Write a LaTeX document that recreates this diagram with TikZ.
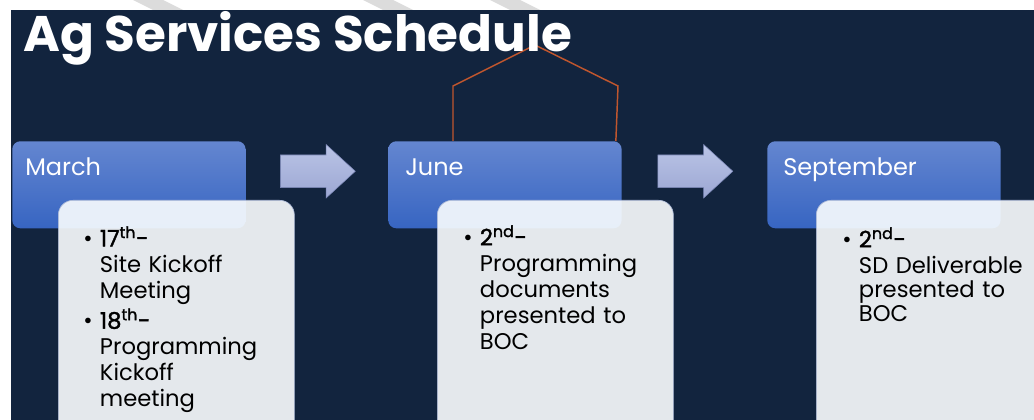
\documentclass[tikz,border=0pt]{standalone}
\usepackage{fontspec}
\setmainfont{Poppins}
\newfontfamily\numfont{Poppins}[FakeBold=1.6]
\usetikzlibrary{shapes.arrows,calc}

\definecolor{navy}{HTML}{12243E}
\definecolor{stripegray}{HTML}{DCDCDC}
\definecolor{hdtop}{HTML}{6486D0}
\definecolor{hdbot}{HTML}{3765C2}
\definecolor{infofill}{RGB}{251,254,255}
\definecolor{infoline}{HTML}{AEBBD8}
\definecolor{arrtop}{HTML}{BAC4E6}
\definecolor{arrbot}{HTML}{9CA7D3}
\definecolor{arrline}{HTML}{7A86B6}
\definecolor{bracketorange}{HTML}{C0562E}

% one bullet item, hanging after the first line
\newcommand\bitem[1]{\hangindent=12.5pt\hangafter=1\noindent\strut\makebox[12.5pt][l]{\textbullet}#1\par}
\newcommand\dayno[2]{{\numfont #1\textsuperscript{#2}-}}

\tikzset{
  month/.style={rounded corners=6pt, top color=hdtop, bottom color=hdbot,
    minimum width=175pt, minimum height=65.25pt, anchor=north west, inner sep=0pt},
  monthtext/.style={anchor=base west, inner sep=0pt, text=white,
    font=\fontsize{18}{20}\selectfont},
  infobox/.style={rounded corners=11pt, fill=infofill, fill opacity=0.9,
    draw=infoline, line width=0.5pt, minimum width=177pt, minimum height=200pt,
    anchor=north west, inner sep=0pt},
  itemlist/.style={anchor=north west, inner sep=0pt, text width=165pt,
    text=black, font=\fontsize{17}{19.5}\selectfont},
  blockarrow/.style={single arrow, single arrow head extend=7.875pt,
    single arrow tip angle=85, minimum height=56.25pt, inner xsep=0pt, inner ysep=12pt,
    top color=arrtop, bottom color=arrbot, draw=arrline, line width=0.4pt},
  bracket/.style={draw=bracketorange, line width=1.1pt},
  titletext/.style={anchor=base west, inner sep=0pt, text=white,
    font=\bfseries\fontsize{37.5}{40}\selectfont}
}

\begin{document}
\begin{tikzpicture}[x=0.75pt,y=-0.75pt]
\useasboundingbox (0,0) rectangle (1034,420);
\clip (0,0) rectangle (1034,420);

% background
\fill[white] (0,0) rectangle (1034,420);
\foreach \s in {133,363,490}
  \fill[stripegray] (\s,0) -- (\s+30,0) -- (\s+50,10) -- (\s+20,10) -- cycle;
\fill[navy] (11,10) rectangle (1034,420);

% bracket over June
\coordinate (peak) at (535,45);

% month headers
\node[month] (mar) at (12,141) {};
\node[month] (jun) at (388,141) {};
\node[month] (sep) at (767,141) {};
\draw[bracket] ([xshift=48.75pt]jun.north west) -- ++(0,-55) -- (peak) -- ++(83,41) -- ([xshift=-4.5pt]jun.north east);

\node[monthtext] (martext) at (25,176) {March};
\node[monthtext] (juntext) at (405,176) {June};
\node[monthtext] (septext) at (783,176) {September};

% arrows between months
\node[blockarrow] (arr1) at ($(mar.east)!.5!(jun.west)+(-8,-13.5)$) {};
\node[blockarrow] (arr2) at ($(jun.east)!.5!(sep.west)+(-8,-13.5)$) {};

% detail boxes
\node[infobox] (marinfo) at (58,200) {};
\node[infobox] (juninfo) at (437,200) {};
\node[infobox] (sepinfo) at (816,200) {};

\node[itemlist] (marlist) at (83,226) {%
  \bitem{\dayno{17}{th}\newline Site Kickoff\newline Meeting}
  \vspace{2pt}
  \bitem{\dayno{18}{th}\newline Programming\newline Kickoff\newline meeting}};
\node[itemlist] (junlist) at (463,225) {%
  \bitem{\dayno{2}{nd}\newline Programming\newline documents\newline presented to\newline BOC}};
\node[itemlist, font=\fontsize{17}{18}\selectfont] (seplist) at (842,227) {%
  \bitem{\dayno{2}{nd}\newline SD Deliverable\newline presented to\newline BOC}};

% title
\node[titletext] (title) at (23,52) {Ag Services Schedule};
\end{tikzpicture}
\end{document}
